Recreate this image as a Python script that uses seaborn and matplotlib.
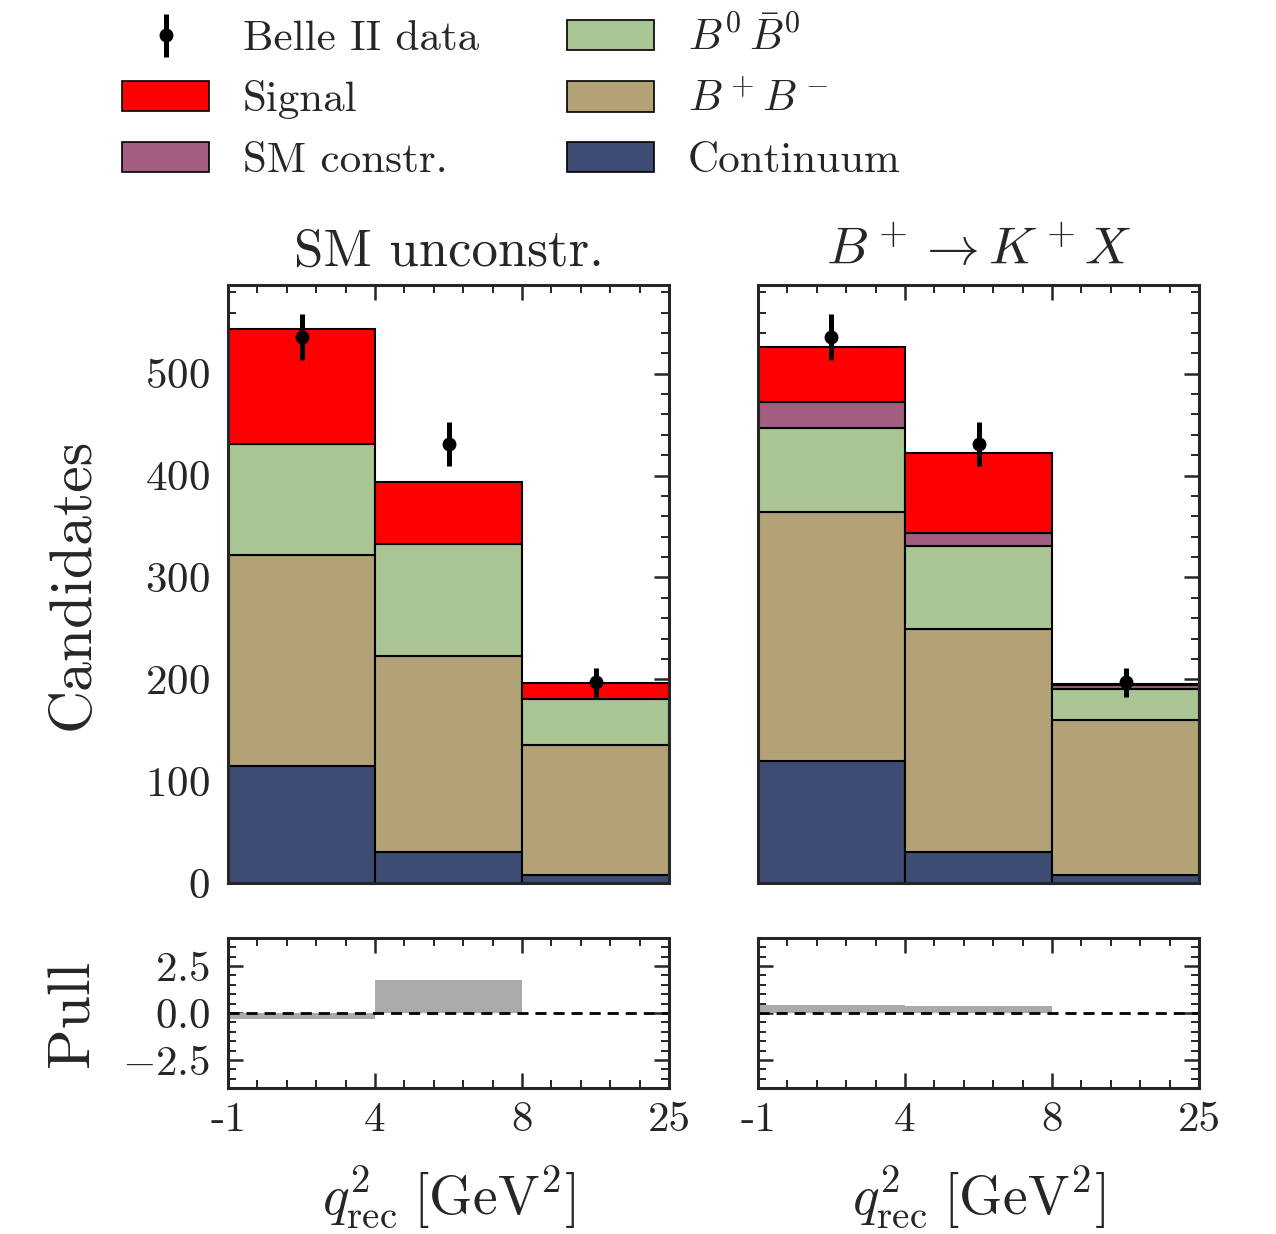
import numpy as np
import pandas as pd
import matplotlib
matplotlib.use("Agg")
import matplotlib.pyplot as plt
import seaborn as sns
from matplotlib.patches import Patch
from matplotlib.ticker import AutoMinorLocator, MultipleLocator, FixedLocator

# ---------------- data ----------------
bin_edges_labels = ["-1", "4", "8", "25"]
bin_centers = [0.5, 1.5, 2.5]

components = ["Signal", "SM constr.", "B0B0bar", "B+B-", "Continuum"]
comp_labels = {
    "Signal": "Signal",
    "SM constr.": "SM constr.",
    "B0B0bar": r"$B^0\,\bar{B}^0$",
    "B+B-": r"$B^+B^-$",
    "Continuum": "Continuum",
}
comp_colors = {
    "Signal": "#ff0000",
    "SM constr.": "#a25f82",
    "B0B0bar": "#aac594",
    "B+B-": "#b3a276",
    "Continuum": "#3e4c73",
}

# left panel: SM unconstr.
left_continuum = [115, 30, 8]
left_bpbm = [207, 193, 128]
left_b0b0 = [109, 110, 45]
left_signal = [113, 61, 15]

# right panel: B+ -> K+ X
right_continuum = [120, 30, 8]
right_bpbm = [244, 219, 152]
right_b0b0 = [83, 82, 30]
right_smconstr = [25, 13, 4]
right_signal = [54, 78, 1]

data_counts = [536, 431, 197]
data_errors = [23, 22, 14]

left_pull = [-0.3, 1.75, 0.0]
right_pull = [0.42, 0.36, 0.0]

panel_titles = ["SM unconstr.", r"$B^+ \rightarrow K^+X$"]

# ---------------- style ----------------
sns.set_style("ticks")
plt.rcParams.update({
    "font.family": "serif",
    "font.serif": ["cmr10"],
    "mathtext.fontset": "cm",
    "axes.formatter.use_mathtext": True,
    "axes.unicode_minus": False,
    "axes.linewidth": 2.2,
    "xtick.direction": "in",
    "ytick.direction": "in",
    "xtick.top": True,
    "ytick.right": True,
    "xtick.major.size": 11,
    "ytick.major.size": 11,
    "xtick.minor.size": 6,
    "ytick.minor.size": 6,
    "xtick.major.width": 1.8,
    "ytick.major.width": 1.8,
    "xtick.minor.width": 1.4,
    "ytick.minor.width": 1.4,
    "xtick.minor.visible": True,
    "ytick.minor.visible": True,
})

fig = plt.figure(figsize=(12.76, 12.34), dpi=100)

main_pos = [[0.1787, 0.2844, 0.3456, 0.4846], [0.5940, 0.2844, 0.3457, 0.4846]]
pull_pos = [[0.1787, 0.1183, 0.3456, 0.1216], [0.5940, 0.1183, 0.3457, 0.1216]]

def make_df(parts):
    rows = []
    for comp, vals in parts.items():
        for c, v in zip(bin_centers, vals):
            rows.append({"x": c, "w": v, "comp": comp})
    return pd.DataFrame(rows)

panels = [
    {"Signal": left_signal, "B0B0bar": left_b0b0, "B+B-": left_bpbm, "Continuum": left_continuum},
    {"Signal": right_signal, "SM constr.": right_smconstr, "B0B0bar": right_b0b0,
     "B+B-": right_bpbm, "Continuum": right_continuum},
]
pulls = [left_pull, right_pull]

tick_fs = 31
ylabel_fs = 43
title_fs = 38
xlabel_fs = 40
ylabel_x = -0.290

data_handle = None
for i in range(2):
    ax = fig.add_axes(main_pos[i])
    df = make_df(panels[i])
    order = [c for c in components if c in panels[i]]
    sns.histplot(data=df, x="x", weights="w", hue="comp", hue_order=order,
                 palette=comp_colors, multiple="stack", bins=[0, 1, 2, 3],
                 element="bars", fill=True, alpha=1, edgecolor="black",
                 linewidth=1.5, legend=False, ax=ax)
    eb = ax.errorbar(bin_centers, data_counts, yerr=data_errors, fmt="o", color="black",
                     ms=9, elinewidth=3.6, capsize=0, zorder=5)
    if data_handle is None:
        data_handle = eb
    ax.set_xlim(0, 3)
    ax.set_ylim(0, 587)
    ax.xaxis.set_major_locator(FixedLocator([0, 1, 2, 3]))
    ax.xaxis.set_minor_locator(AutoMinorLocator(5))
    ax.yaxis.set_major_locator(MultipleLocator(100))
    ax.yaxis.set_minor_locator(MultipleLocator(20))
    ax.set_xticklabels([])
    ax.set_xlabel("")
    ax.set_title(panel_titles[i], fontsize=title_fs, pad=14)
    ax.tick_params(labelsize=tick_fs)
    ax.tick_params(axis="y", pad=13)
    if i == 0:
        ax.set_ylabel("Candidates", fontsize=ylabel_fs)
        ax.yaxis.set_label_coords(ylabel_x, 0.5)
    else:
        ax.set_ylabel("")
        ax.set_yticklabels([])

    axp = fig.add_axes(pull_pos[i])
    sns.histplot(x=bin_centers, weights=pulls[i], bins=[0, 1, 2, 3], element="bars",
                 fill=True, color="#aaaaaa", alpha=1, edgecolor="none", linewidth=0,
                 ax=axp)
    axp.axhline(0, color="black", ls="--", lw=2, dashes=(4, 2.5))
    axp.set_xlim(0, 3)
    axp.set_ylim(-4, 4)
    axp.xaxis.set_major_locator(FixedLocator([0, 1, 2, 3]))
    axp.xaxis.set_minor_locator(AutoMinorLocator(5))
    axp.yaxis.set_major_locator(MultipleLocator(2.5))
    axp.yaxis.set_minor_locator(MultipleLocator(0.5))
    axp.set_xticklabels(bin_edges_labels)
    axp.tick_params(labelsize=tick_fs)
    axp.tick_params(axis="x", pad=10)
    axp.tick_params(axis="y", pad=13)
    axp.set_xlabel(r"$q^2_{\mathrm{rec}}\;[\mathrm{GeV}^2]$", fontsize=xlabel_fs, labelpad=18)
    if i == 0:
        axp.set_ylabel("Pull", fontsize=ylabel_fs)
        axp.yaxis.set_label_coords(ylabel_x, 0.5)
    else:
        axp.set_ylabel("")
        axp.set_yticklabels([])

# ---------------- legend ----------------
handles = [
    data_handle,
    Patch(facecolor=comp_colors["Signal"], edgecolor="black", linewidth=1.2),
    Patch(facecolor=comp_colors["SM constr."], edgecolor="black", linewidth=1.2),
    Patch(facecolor=comp_colors["B0B0bar"], edgecolor="black", linewidth=1.2),
    Patch(facecolor=comp_colors["B+B-"], edgecolor="black", linewidth=1.2),
    Patch(facecolor=comp_colors["Continuum"], edgecolor="black", linewidth=1.2),
]
labels = ["Belle II data", "Signal", "SM constr.", comp_labels["B0B0bar"],
          comp_labels["B+B-"], "Continuum"]
leg = fig.legend(handles, labels, loc="upper left", bbox_to_anchor=(0.096, 0.987),
                 ncol=2, frameon=False, fontsize=31, handlelength=2.0,
                 handleheight=0.7, handletextpad=0.8, labelspacing=0.52,
                 columnspacing=2.05, borderpad=0, borderaxespad=0)

fig.savefig("out.png", dpi=100)
